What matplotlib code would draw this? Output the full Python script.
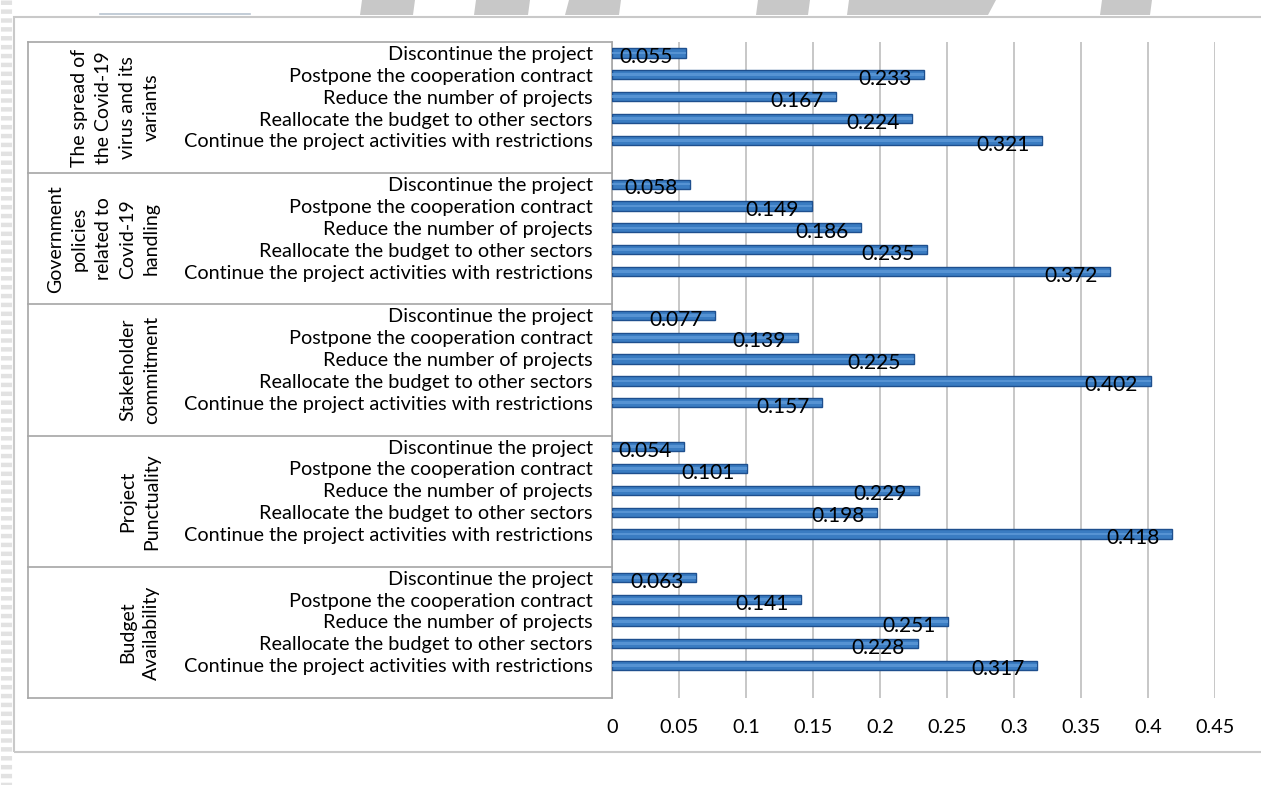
import matplotlib
matplotlib.use("Agg")
import matplotlib.pyplot as plt
import matplotlib.transforms as mtransforms
from matplotlib.lines import Line2D
from matplotlib.patches import Polygon, Rectangle

plt.rcParams["font.family"] = ["Lato", "DejaVu Sans"]

# ---- data (top to bottom) ----
GROUPS = [
    "The spread of\nthe Covid-19\nvirus and its\nvariants",
    "Government\npolicies\nrelated to\nCovid-19\nhandling",
    "Stakeholder\ncommitment",
    "Project\nPunctuality",
    "Budget\nAvailability",
]

OPTIONS = [
    "Discontinue the project",
    "Postpone the cooperation contract",
    "Reduce the number of projects",
    "Reallocate the budget to other sectors",
    "Continue the project activities with restrictions",
]

spread_vals      = [0.055, 0.233, 0.167, 0.224, 0.321]
government_vals  = [0.058, 0.149, 0.186, 0.235, 0.372]
stakeholder_vals = [0.077, 0.139, 0.225, 0.402, 0.157]
punctuality_vals = [0.054, 0.101, 0.229, 0.198, 0.418]
budget_vals      = [0.063, 0.141, 0.251, 0.228, 0.317]

X_TICKS = [0, 0.05, 0.1, 0.15, 0.2, 0.25, 0.3, 0.35, 0.4, 0.45]

ALL_VALS = [spread_vals, government_vals, stakeholder_vals,
            punctuality_vals, budget_vals]

W, H = 1261, 785
SLOTS = 6  # 5 options + one blank row per group

BAR_FACE = "#3A7CC2"
BAR_EDGE = "#1E4F8E"
LINE_GRAY = "#A6A6A6"


def fx(x):
    return x / W


def fy(y):
    return 1 - y / H


fig = plt.figure(figsize=(W / 100, H / 100), dpi=100)
fig.patch.set_facecolor("white")

# page decoration: outer chart frame, left strip, top shapes
fig.add_artist(Rectangle((fx(14), fy(752)), fx(1300) - fx(14), fy(17) - fy(752),
                         transform=fig.transFigure, fill=False,
                         edgecolor="#C9C9C9", linewidth=1.5))
fig.add_artist(Line2D([fx(6), fx(6)], [fy(0), fy(785)], transform=fig.transFigure,
                      color="#E2E2E2", linewidth=8, linestyle=(0, (0.4, 0.4))))
for x0, x1, x2, x3 in [(360, 413, 415, 362), (474, 528, 530, 476), (565, 619, 621, 569),
                       (756, 808, 810, 758), (847, 988, 996, 849), (1100, 1150, 1152, 1102)]:
    fig.add_artist(Polygon([(fx(x0), fy(15)), (fx(x1), fy(15)), (fx(x2), fy(0)), (fx(x3), fy(0))],
                           closed=True, transform=fig.transFigure,
                           facecolor="#C8C8C8", edgecolor="none"))
fig.add_artist(Line2D([fx(100), fx(250)], [fy(14), fy(14)], transform=fig.transFigure,
                      color="#B8C4D0", linewidth=1.2))

ax = fig.add_axes([fx(612), fy(698), fx(1215) - fx(612), fy(42) - fy(698)])

positions = []
values = []
labels = []
for g, vals in enumerate(ALL_VALS):
    for i, v in enumerate(vals):
        positions.append(g * SLOTS + i)
        values.append(v)
        labels.append(OPTIONS[i])

ax.barh(positions, values, height=0.42, color=BAR_FACE, edgecolor=BAR_EDGE,
        linewidth=1.0, zorder=3)
# light highlight along the middle of each bar
ax.barh(positions, values, height=0.12, color="#5E9AD8", edgecolor="none",
        zorder=4, alpha=0.8)

for p, v in zip(positions, values):
    ax.annotate(f"{v:.3f}", xy=(v, p), xytext=(-9, -3), textcoords="offset points",
                ha="right", va="center", fontsize=15, color="black", zorder=5)

ax.set_xlim(0, 0.45)
ax.set_ylim(SLOTS * len(GROUPS) - 0.5, -0.5)
ax.set_xticks(X_TICKS)
ax.set_xticklabels([f"{t:g}" for t in X_TICKS], fontsize=14.3)
ax.set_yticks(positions)
ax.set_yticklabels(labels, fontsize=14.3)
ax.tick_params(axis="y", length=0, pad=14)
ax.tick_params(axis="x", length=0, pad=15)

ax.grid(axis="x", color="#BDBDBD", linewidth=1.2, zorder=0)
ax.set_axisbelow(True)
for s in ["top", "right", "bottom"]:
    ax.spines[s].set_visible(False)
ax.spines["left"].set_color(LINE_GRAY)
ax.spines["left"].set_linewidth(1.2)

# category table on the left
trans = mtransforms.blended_transform_factory(fig.transFigure, ax.transData)
n_rows = SLOTS * len(GROUPS)
for g in range(len(GROUPS) + 1):
    yy = g * SLOTS - 0.5
    fig.add_artist(Line2D([fx(28), fx(612)], [yy, yy], transform=trans,
                          color=LINE_GRAY, linewidth=1.2))
fig.add_artist(Line2D([fx(28), fx(28)], [-0.5, n_rows - 0.5], transform=trans,
                      color=LINE_GRAY, linewidth=1.2))

for g, name in enumerate(GROUPS):
    fig.text(fx(160), g * SLOTS + 2.5, name, transform=trans, rotation=90,
             ha="right", va="center", multialignment="center",
             fontsize=14, linespacing=1.5)

fig.savefig("out.png", dpi=100, facecolor="white")
